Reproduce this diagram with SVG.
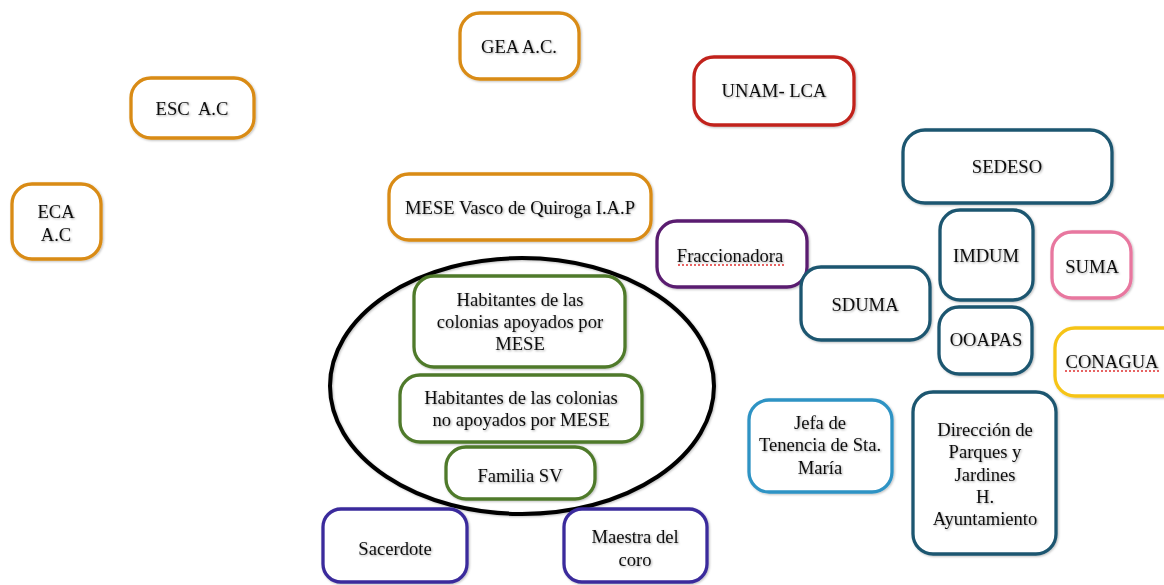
<svg xmlns="http://www.w3.org/2000/svg" width="1164" height="585" viewBox="0 0 1164 585">
<defs>
<filter id="ts" x="-10%" y="-30%" width="120%" height="160%"><feDropShadow dx="1" dy="1" stdDeviation="1.2" flood-color="#000" flood-opacity="0.35"/></filter>
<filter id="bs" x="-10%" y="-10%" width="120%" height="120%"><feDropShadow dx="1" dy="1" stdDeviation="1" flood-color="#000" flood-opacity="0.25"/></filter>
</defs>
<style>
rect{fill:#fff;stroke-width:3.3;filter:url(#bs)}
text{font-family:"Liberation Serif","Times New Roman",serif;font-size:18.6px;fill:#111;text-anchor:middle;filter:url(#ts)}
.or{stroke:#D98B12}.red{stroke:#C1241C}.pur{stroke:#5A1E70}.teal{stroke:#1D5670}.pink{stroke:#E8779F}.yel{stroke:#F6C417}.grn{stroke:#4F7A2B}.ind{stroke:#3A2C9C}.blu{stroke:#2E93C4}
.sp{stroke:#E03030;stroke-width:1.5;stroke-dasharray:2 2;fill:none}
</style>
<rect width="1164" height="585" fill="#fff" style="stroke:none;filter:none"/>
<g id="connectors"></g>
<g id="grupo">
<ellipse cx="522" cy="386" rx="192" ry="128" fill="none" stroke="#000" stroke-width="4" filter="url(#bs)"/>
</g>
<g id="esc"><rect class="or" x="131" y="78" width="123" height="60" rx="20"/><text x="192" y="115">ESC&#160; A.C</text></g>
<g id="eca"><rect class="or" x="12" y="184" width="89" height="75" rx="20"/><text x="56" y="218">ECA</text><text x="56" y="241">A.C</text></g>
<g id="gea"><rect class="or" x="460" y="13" width="119" height="66" rx="20"/><text x="519" y="53">GEA A.C.</text></g>
<g id="unam"><rect class="red" x="694" y="57" width="160" height="68" rx="20"/><text x="774" y="97">UNAM- LCA</text></g>
<g id="mese"><rect class="or" x="389" y="174" width="262" height="66" rx="20"/><text x="520" y="214">MESE Vasco de Quiroga I.A.P</text></g>
<g id="fracc"><rect class="pur" x="657" y="221" width="150" height="66" rx="20"/><text x="730" y="262">Fraccionadora</text><line class="sp" x1="678" y1="265" x2="786" y2="265"/></g>
<g id="sedeso"><rect class="teal" x="903" y="130" width="209" height="73" rx="22"/><text x="1007" y="173">SEDESO</text></g>
<g id="imdum"><rect class="teal" x="940" y="210" width="93" height="90" rx="20"/><text x="986" y="262">IMDUM</text></g>
<g id="suma"><rect class="pink" x="1052" y="232" width="79" height="66" rx="20"/><text x="1092" y="273">SUMA</text></g>
<g id="sduma"><rect class="teal" x="801" y="267" width="129" height="73" rx="20"/><text x="865" y="311">SDUMA</text></g>
<g id="ooapas"><rect class="teal" x="939" y="307" width="93" height="67" rx="20"/><text x="986" y="346">OOAPAS</text></g>
<g id="conagua"><rect class="yel" x="1055" y="328" width="130" height="68" rx="20"/><text x="1112" y="368">CONAGUA</text><line class="sp" x1="1065" y1="371" x2="1160" y2="371"/></g>
<g id="hab1"><rect class="grn" x="414" y="276" width="211" height="91" rx="20"/><text x="520" y="306">Habitantes de las</text><text x="520" y="328">colonias apoyados por</text><text x="520" y="350">MESE</text></g>
<g id="hab2"><rect class="grn" x="400" y="375" width="242" height="67" rx="20"/><text x="521" y="404">Habitantes de las colonias</text><text x="521" y="426">no apoyados por MESE</text></g>
<g id="familia"><rect class="grn" x="446" y="447" width="149" height="52" rx="20"/><text x="520" y="482">Familia SV</text></g>
<g id="sacerdote"><rect class="ind" x="323" y="509" width="144" height="73" rx="18"/><text x="395" y="555">Sacerdote</text></g>
<g id="maestra"><rect class="ind" x="564" y="509" width="143" height="73" rx="18"/><text x="635" y="543">Maestra del</text><text x="635" y="566">coro</text></g>
<g id="jefa"><rect class="blu" x="749" y="400" width="143" height="92" rx="20"/><text x="820" y="429">Jefa de</text><text x="820" y="451">Tenencia de Sta.</text><text x="820" y="474">María</text></g>
<g id="direccion"><rect class="teal" x="913" y="392" width="143" height="162" rx="20"/><text x="985" y="436">Dirección de</text><text x="985" y="458">Parques y</text><text x="985" y="481">Jardines</text><text x="985" y="503">H.</text><text x="985" y="525">Ayuntamiento</text></g>
</svg>
